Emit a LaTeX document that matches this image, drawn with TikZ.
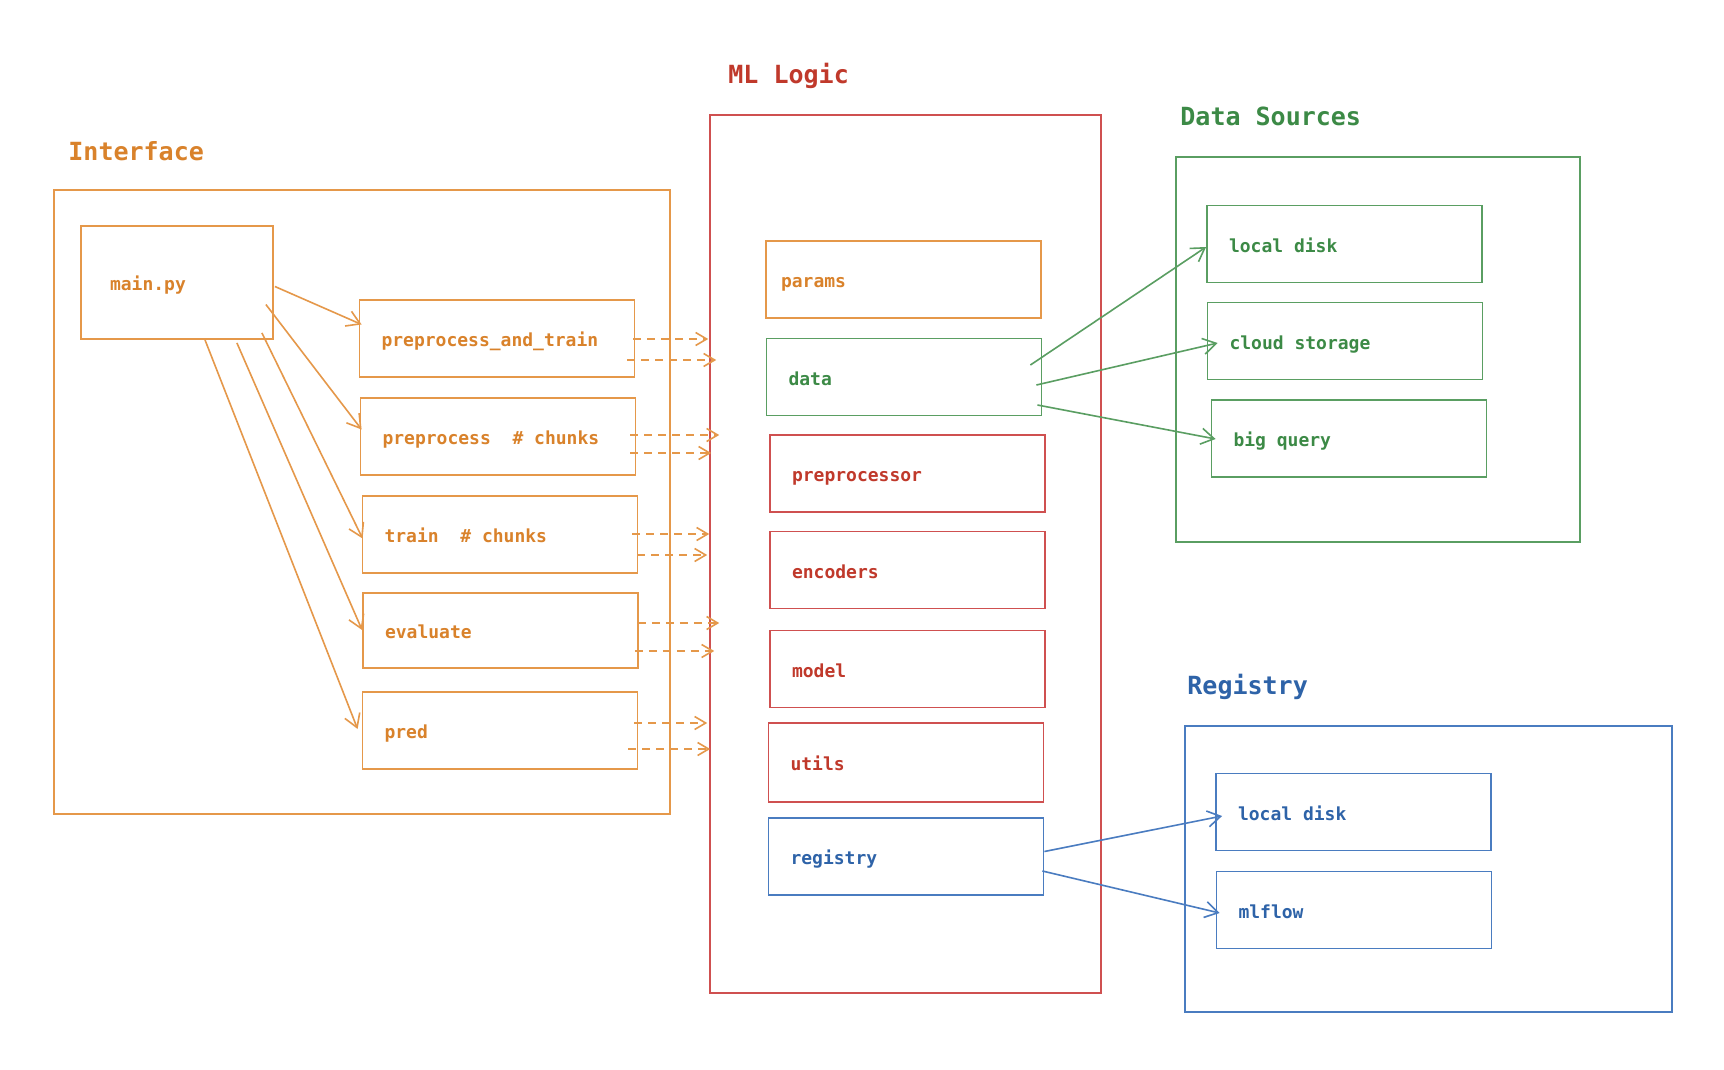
\documentclass[tikz,border=0pt]{standalone}
\usepackage{fontspec}
\setmonofont{DejaVu Sans Mono}
\usetikzlibrary{arrows.meta,calc}
\newcommand{\msp}{\phantom{x}}
\definecolor{ortext}{HTML}{D9822B}
\definecolor{orline}{HTML}{E5984A}
\definecolor{rdtext}{HTML}{C0392B}
\definecolor{rdline}{HTML}{CF5050}
\definecolor{grtext}{HTML}{3C8A46}
\definecolor{grline}{HTML}{5A9E62}
\definecolor{bltext}{HTML}{2E63A8}
\definecolor{blline}{HTML}{4A7CC0}
\tikzset{
  frame/.style={draw=#1, line width=0.8pt, rectangle, inner sep=0pt},
  ibox/.style 2 args={draw=#1, text=#2, line width=0.9pt, rectangle,
    minimum width=137.5pt, minimum height=38.5pt, text width=115.5pt,
    text height=8pt, text depth=0pt,
    inner xsep=11pt, align=left, font=\ttfamily\bfseries\fontsize{9}{11}\selectfont},
  ttl/.style={text=#1, anchor=base west, inner sep=0pt,
    font=\ttfamily\bfseries\fontsize{12.5}{15}\selectfont},
  conn/.style={draw=#1, line width=0.8pt, -{Straight Barb[length=6.5pt,width=8pt,line width=0.8pt]}},
  dconn/.style={draw=#1, line width=0.8pt, dash pattern=on 4pt off 3pt,
    -{Straight Barb[length=5.5pt,width=6.5pt,line width=0.8pt]}}
}
\begin{document}
\begin{tikzpicture}[x=0.5pt,y=-0.5pt]
\useasboundingbox[fill=white] (0,0) rectangle (1724,1070);

% ---------- Interface ----------
\node[ttl=ortext] (tiface) at (68,160.5) {Interface};
\node[frame=orline, minimum width=308pt, minimum height=312pt] (iface) at (362,502) {};
\node[ibox={orline}{ortext}, minimum width=96pt, minimum height=56.5pt, text width=67pt, inner xsep=14.5pt] (main) at (177,282.5) {main.py};
\node[ibox={orline}{ortext}] (pat) at (497,338.5) {preprocess\_and\_train};
\node[ibox={orline}{ortext}] (pre) at (498,436.5) {preprocess\msp\msp\#\msp{}chunks};
\node[ibox={orline}{ortext}] (train) at (500,534.5) {train\msp\msp\#\msp{}chunks};
\node[ibox={orline}{ortext}, minimum height=37.5pt] (eval) at (500.5,630.5) {evaluate};
\node[ibox={orline}{ortext}] (pred) at (500,730.5) {pred};

% ---------- ML Logic ----------
\node[ttl=rdtext] (tml) at (728,83.5) {ML\msp{}Logic};
\node[frame=rdline, minimum width=195.5pt, minimum height=439pt] (ml) at (905.5,554) {};
\node[ibox={orline}{ortext}, inner xsep=7.5pt, text width=122.5pt] (params) at (903.5,279.5) {params};
\node[ibox={grline}{grtext}] (data) at (904,377) {data};
\node[ibox={rdline}{rdtext}] (prep) at (907.5,473.5) {preprocessor};
\node[ibox={rdline}{rdtext}] (enc) at (907.5,570) {encoders};
\node[ibox={rdline}{rdtext}] (model) at (907.5,669) {model};
\node[ibox={rdline}{rdtext}, minimum height=39.5pt] (utils) at (906,762.5) {utils};
\node[ibox={blline}{bltext}] (reg) at (906,856.5) {registry};

% ---------- Data Sources ----------
\node[ttl=grtext] (tds) at (1180,125.5) {Data\msp{}Sources};
\node[frame=grline, minimum width=202pt, minimum height=192.5pt] (ds) at (1378,349.5) {};
\node[ibox={grline}{grtext}] (ldisk) at (1344.5,244) {local\msp{}disk};
\node[ibox={grline}{grtext}] (cloud) at (1345,341) {cloud\msp{}storage};
\node[ibox={grline}{grtext}] (bigq) at (1349,438.5) {big\msp{}query};

% ---------- Registry ----------
\node[ttl=bltext] (treg) at (1187,694) {Registry};
\node[frame=blline, minimum width=243.5pt, minimum height=143pt] (regf) at (1428.5,869) {};
\node[ibox={blline}{bltext}] (rlocal) at (1353.5,812) {local\msp{}disk};
\node[ibox={blline}{bltext}] (mlflow) at (1354,910) {mlflow};

% ---------- main.py connectors ----------
\draw[conn=orline] ($(main.east)+(1,4)$) -- ($(pat.west)+(3,-14)$);
\draw[conn=orline] ($(main.east)+(-8,22)$) -- ($(pre.west)+(2,-7)$);
\draw[conn=orline] ($(main.south east)+(-12,-7)$) -- ($(train.west)+(1,4)$);
\draw[conn=orline] ($(main.south east)+(-37,3)$) -- ($(eval.west)+(0,-0.5)$);
\draw[conn=orline] ($(main.south)+(28,0)$) -- ($(pred.west)+(-4,-1.5)$);

% ---------- dashed connectors into ML Logic ----------
\draw[dconn=orline] ($(pat.east)+(-2,0.5)$) -- ($(pat.east -| ml.west)+(-1,0.5)$);
\draw[dconn=orline] ($(pat.east)+(-8,21.5)$) -- ($(pat.east -| ml.west)+(7,21.5)$);
\draw[dconn=orline] ($(pre.east)+(-6,-1.5)$) -- ($(pre.east -| ml.west)+(10,-1.5)$);
\draw[dconn=orline] ($(pre.east)+(-6,16.5)$) -- ($(pre.east -| ml.west)+(2,16.5)$);
\draw[dconn=orline] ($(train.east)+(-6,-0.5)$) -- ($(train.east -| ml.west)+(0,-0.5)$);
\draw[dconn=orline] ($(train.east)+(-1,20.5)$) -- ($(train.east -| ml.west)+(-2,20.5)$);
\draw[dconn=orline] ($(eval.east)+(-1,-7.5)$) -- ($(eval.east -| ml.west)+(10,-7.5)$);
\draw[dconn=orline] ($(eval.east)+(-4,20.5)$) -- ($(eval.east -| ml.west)+(5,20.5)$);
\draw[dconn=orline] ($(pred.east)+(-4,-7.5)$) -- ($(pred.east -| ml.west)+(-2,-7.5)$);
\draw[dconn=orline] ($(pred.east)+(-10,18.5)$) -- ($(pred.east -| ml.west)+(1,18.5)$);

% ---------- data connectors ----------
\draw[conn=grline] ($(data.east)+(-12,-12)$) -- ($(ldisk.west)+(0,3)$);
\draw[conn=grline] ($(data.east)+(-6,8)$) -- ($(cloud.west)+(11,2)$);
\draw[conn=grline] ($(data.east)+(-5,28)$) -- ($(bigq.west)+(5,0.5)$);

% ---------- registry connectors ----------
\draw[conn=blline] ($(reg.east)+(0,-5)$) -- ($(rlocal.west)+(7,4)$);
\draw[conn=blline] ($(reg.east)+(-2,14.5)$) -- ($(mlflow.west)+(4,3)$);
\end{tikzpicture}
\end{document}
